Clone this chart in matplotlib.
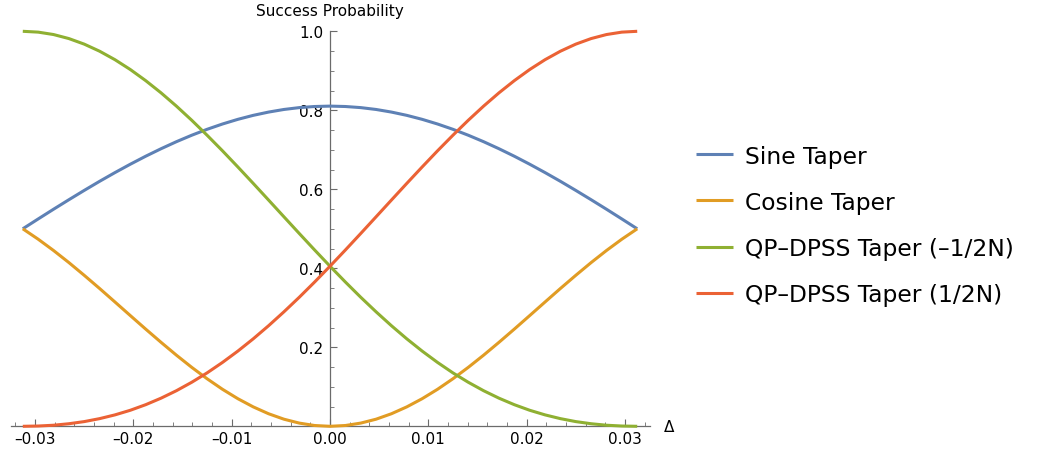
import matplotlib
matplotlib.use("Agg")

import matplotlib.pyplot as plt
from matplotlib.ticker import FixedLocator, MultipleLocator, FuncFormatter

# frequency offset (Delta) samples, from -1/2N to 1/2N with N = 16
delta = [-0.03125, -0.0296875, -0.028125, -0.0265625, -0.025, -0.0234375,
         -0.021875, -0.0203125, -0.01875, -0.0171875, -0.015625, -0.0140625,
         -0.0125, -0.0109375, -0.009375, -0.0078125, -0.00625, -0.0046875,
         -0.003125, -0.0015625, 0.0,
         0.0015625, 0.003125, 0.0046875, 0.00625, 0.0078125, 0.009375,
         0.0109375, 0.0125, 0.0140625, 0.015625, 0.0171875, 0.01875,
         0.0203125, 0.021875, 0.0234375, 0.025, 0.0265625, 0.028125,
         0.0296875, 0.03125]

# success probabilities
sine_taper = [0.5, 0.5249, 0.5495, 0.5736, 0.5972, 0.6202, 0.6423, 0.6635,
              0.6837, 0.7027, 0.7205, 0.7369, 0.7519, 0.7653, 0.7771, 0.7872,
              0.7955, 0.8021, 0.8068, 0.8096, 0.8106,
              0.8096, 0.8068, 0.8021, 0.7955, 0.7872, 0.7771, 0.7653, 0.7519,
              0.7369, 0.7205, 0.7027, 0.6837, 0.6635, 0.6423, 0.6202, 0.5972,
              0.5736, 0.5495, 0.5249, 0.5]
cosine_taper = [0.5, 0.4737, 0.4451, 0.4145, 0.3822, 0.3489, 0.3147, 0.2803,
                0.2461, 0.2126, 0.1801, 0.1492, 0.1203, 0.0937, 0.0699, 0.0492,
                0.0318, 0.0180, 0.0081, 0.0020, 0.0,
                0.0020, 0.0081, 0.0180, 0.0318, 0.0492, 0.0699, 0.0937, 0.1203,
                0.1492, 0.1801, 0.2126, 0.2461, 0.2803, 0.3147, 0.3489, 0.3822,
                0.4145, 0.4451, 0.4737, 0.5]
qp_minus = [1.0, 0.9979, 0.9918, 0.9816, 0.9675, 0.9496, 0.9281, 0.9032,
            0.8751, 0.8442, 0.8106, 0.7747, 0.7368, 0.6974, 0.6566, 0.6150,
            0.5728, 0.5304, 0.4881, 0.4463, 0.4053,
            0.3653, 0.3267, 0.2898, 0.2546, 0.2214, 0.1904, 0.1617, 0.1353,
            0.1115, 0.0901, 0.0712, 0.0547, 0.0406, 0.0289, 0.0194, 0.0119,
            0.0065, 0.0027, 0.0007, 0.0]
qp_plus = [0.0, 0.0007, 0.0027, 0.0065, 0.0119, 0.0194, 0.0289, 0.0406,
           0.0547, 0.0712, 0.0901, 0.1115, 0.1353, 0.1617, 0.1904, 0.2214,
           0.2546, 0.2898, 0.3267, 0.3653, 0.4053,
           0.4463, 0.4881, 0.5304, 0.5728, 0.6150, 0.6566, 0.6974, 0.7368,
           0.7747, 0.8106, 0.8442, 0.8751, 0.9032, 0.9281, 0.9496, 0.9675,
           0.9816, 0.9918, 0.9979, 1.0]

series = [
    ("Sine Taper", sine_taper, "#5E81B5"),
    ("Cosine Taper", cosine_taper, "#E19C24"),
    ("QP\u2013DPSS Taper (\u20131/2N)", qp_minus, "#8FB032"),
    ("QP\u2013DPSS Taper (1/2N)", qp_plus, "#EB6235"),
]

fig = plt.figure(figsize=(10.37, 4.56), dpi=100)
ax = fig.add_axes([0.01013, 0.06294, 0.61620, 0.86623])

for label, vals, color in series:
    ax.plot(delta, vals, color=color, linewidth=2.2, label=label,
            clip_on=False, solid_capstyle="butt", solid_joinstyle="round")

ax.set_xlim(-0.0325, 0.0325)
ax.set_ylim(0, 1.0)

# Mathematica style crossing axes
axis_col = "#6b6b6b"
for side in ["top", "right"]:
    ax.spines[side].set_visible(False)
ax.spines["left"].set_position(("data", 0))
ax.spines["bottom"].set_position(("data", 0))
for side in ["left", "bottom"]:
    ax.spines[side].set_color(axis_col)
    ax.spines[side].set_linewidth(0.9)
    ax.spines[side].set_zorder(0.5)

ax.xaxis.set_major_locator(FixedLocator([-0.03, -0.02, -0.01, 0.0, 0.01, 0.02, 0.03]))
ax.xaxis.set_minor_locator(MultipleLocator(0.002))
ax.yaxis.set_major_locator(FixedLocator([0.2, 0.4, 0.6, 0.8, 1.0]))
ax.yaxis.set_minor_locator(MultipleLocator(0.05))

ax.xaxis.set_major_formatter(FuncFormatter(lambda v, p: f"{v:.2f}".replace("-", "\u2013")))
ax.yaxis.set_major_formatter(FuncFormatter(lambda v, p: f"{v:.1f}"))

ax.tick_params(axis="both", which="both", direction="in", color=axis_col,
               labelsize=11, labelcolor="black")
ax.tick_params(axis="both", which="major", length=5, width=0.8)
ax.tick_params(axis="both", which="minor", length=2.8, width=0.6)
ax.tick_params(axis="x", which="major", pad=3.5)
ax.tick_params(axis="y", which="major", pad=5)

ax.annotate("Success Probability", xy=(0, 1.0), xycoords="data",
            xytext=(0, 11.5), textcoords="offset points",
            ha="center", va="baseline", fontsize=11, annotation_clip=False)
ax.annotate("\u0394", xy=(0.0325, 0), xycoords="data",
            xytext=(10, 0), textcoords="offset points",
            ha="left", va="center", fontsize=11, annotation_clip=False)

ax.legend(loc="center left", bbox_to_anchor=(0.6712, 0.504),
          bbox_transform=fig.transFigure, frameon=False, fontsize=16.8,
          handlelength=1.6, handletextpad=0.5, labelspacing=0.99,
          borderpad=0, borderaxespad=0)

fig.savefig("out.png", dpi=100)
